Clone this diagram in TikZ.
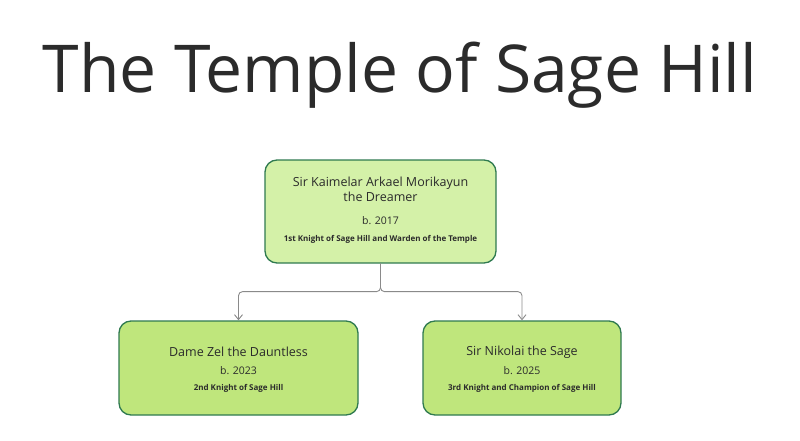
\documentclass[tikz,border=0pt]{standalone}
\usepackage{fontspec}
\setmainfont{Open Sans}
\usetikzlibrary{positioning,arrows.meta}
\definecolor{topfill}{HTML}{D4F1A8}
\definecolor{kidfill}{HTML}{BFE67C}
\definecolor{edge}{HTML}{2F7A50}
\definecolor{wire}{HTML}{8A8A8A}
\definecolor{ink}{HTML}{2B2B2B}
\begin{document}
\begin{tikzpicture}[x=1pt,y=-1pt]
	\tikzstyle{knight}=[draw=edge,line width=1.3pt,rectangle,rounded corners=12pt,text=ink,align=center,inner sep=0pt]
	\tikzstyle{link}=[wire,line width=0.9pt,-{Straight Barb[length=5pt,width=8pt]},rounded corners=4pt]
	\useasboundingbox (0,0) rectangle (800,441);
	
	%
	% title
	%
	\node [text=ink,font=\fontsize{66}{70}\selectfont] (title) at (400,75) {The Temple of Sage Hill};
	
	%
	% knights
	%
	\node [knight,fill=topfill,minimum width=231pt,minimum height=103pt] (kaimelar) at (380.5,211.5) {};
	\node [knight,fill=kidfill,minimum width=239pt,minimum height=94pt] (zel) at (238.5,368) {};
	\node [knight,fill=kidfill,minimum width=198pt,minimum height=94pt] (nikolai) at (522,368) {};
	
	\node [font=\fontsize{12.5}{15}\selectfont,text=ink,align=center] at (380.5,189) {Sir Kaimelar Arkael Morikayun\\the Dreamer};
	\node [font=\fontsize{10.5}{12}\selectfont,text=ink] at (380.5,221) {b. 2017};
	\node [font=\fontsize{8}{10}\selectfont\bfseries,text=ink] at (380.5,239) {1st Knight of Sage Hill and Warden of the Temple};
	
	\node [font=\fontsize{12.5}{15}\selectfont,text=ink] at (238.5,352) {Dame Zel the Dauntless};
	\node [font=\fontsize{10.5}{12}\selectfont,text=ink] at (238.5,371) {b. 2023};
	\node [font=\fontsize{8}{10}\selectfont\bfseries,text=ink] at (238.5,388) {2nd Knight of Sage Hill};
	
	\node [font=\fontsize{12.5}{15}\selectfont,text=ink] at (522,352) {Sir Nikolai the Sage};
	\node [font=\fontsize{10.5}{12}\selectfont,text=ink] at (522,371) {b. 2025};
	\node [font=\fontsize{8}{10}\selectfont\bfseries,text=ink] at (522,388) {3rd Knight and Champion of Sage Hill};
	
	%
	% lineage
	%
	\draw [link] (kaimelar.south) -- ++(0,28) -| (zel.north);
	\draw [link] (kaimelar.south) -- ++(0,28) -| (nikolai.north);
	
\end{tikzpicture}
\end{document}
